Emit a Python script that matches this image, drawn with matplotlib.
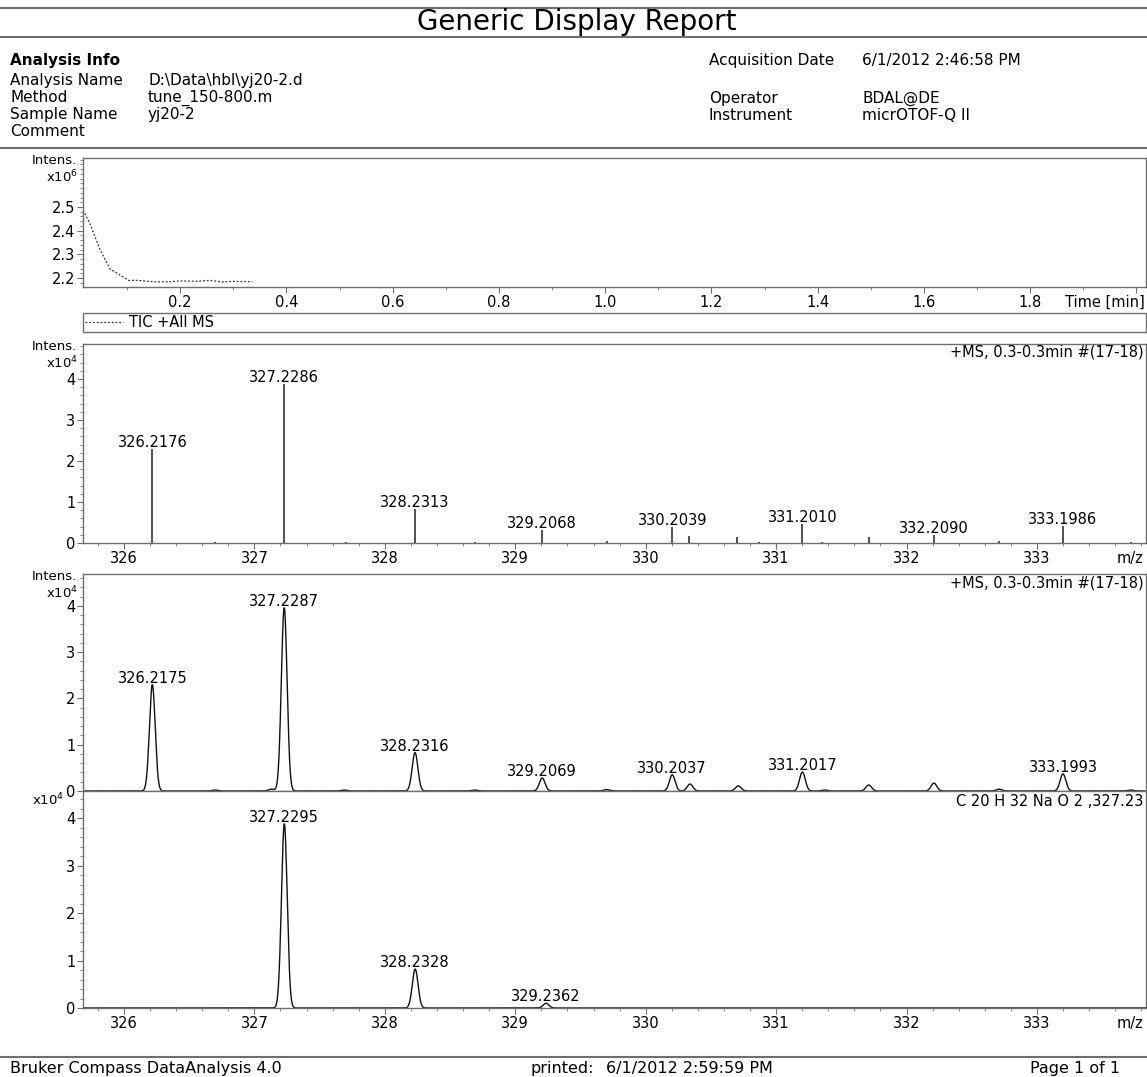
import numpy as np
import matplotlib
matplotlib.use('Agg')
import matplotlib.pyplot as plt
from matplotlib.lines import Line2D
from matplotlib.ticker import MultipleLocator

W, H = 1147, 1077

# TIC trace: time [min], intensity [x1e6]
tic_time = [0.017, 0.03, 0.049, 0.068, 0.085, 0.103, 0.12, 0.15, 0.18, 0.2, 0.23, 0.256, 0.28, 0.3, 0.336]
tic_int = [2.487, 2.43, 2.32, 2.238, 2.215, 2.19, 2.19, 2.184, 2.184, 2.188, 2.186, 2.19, 2.183, 2.186, 2.184]

# line spectrum +MS: m/z, intensity [x1e4]
ms_mz = [326.2176, 326.70, 327.2286, 327.70, 328.2313, 328.69, 329.2068, 329.70, 330.2039, 330.33,
         330.70, 330.87, 331.2010, 331.35, 331.71, 332.2090, 332.71, 333.1986, 333.72]
ms_int = [2.29, 0.02, 3.89, 0.02, 0.83, 0.02, 0.32, 0.04, 0.38, 0.18,
          0.15, 0.02, 0.46, 0.03, 0.15, 0.20, 0.04, 0.42, 0.02]
ms_labeled = [326.2176, 327.2286, 328.2313, 329.2068, 330.2039, 331.2010, 332.2090, 333.1986]

# profile spectrum +MS
pr_mz = [326.2175, 326.70, 327.13, 327.2287, 327.69, 328.2316, 328.69, 329.2069, 329.70, 330.2037,
         330.34, 330.71, 331.2017, 331.37, 331.71, 332.21, 332.71, 333.1993, 333.72]
pr_int = [2.30, 0.02, 0.04, 3.96, 0.02, 0.83, 0.02, 0.28, 0.03, 0.35,
          0.15, 0.11, 0.41, 0.02, 0.13, 0.17, 0.04, 0.37, 0.02]
pr_labeled = [326.2175, 327.2287, 328.2316, 329.2069, 330.2037, 331.2017, 333.1993]

# simulated pattern C20H32NaO2
th_mz = [327.2295, 328.2328, 329.2362]
th_int = [3.88, 0.82, 0.10]
th_labeled = [327.2295, 328.2328, 329.2362]

peak_sigma = 0.022
mz_range = (325.686, 333.836)
mz_ticks = [326, 327, 328, 329, 330, 331, 332, 333]

GRAY = '#6e6e6e'
FS = 10.5


def box(l, t, r, b):
    return [l / W, 1 - b / H, (r - l) / W, (b - t) / H]


def fx(x):
    return x / W


def fy(y):
    return 1 - y / H


def style(ax):
    for s in ax.spines.values():
        s.set_color(GRAY)
        s.set_linewidth(1.0)
    ax.tick_params(which='both', direction='out', color=GRAY, labelsize=FS, pad=1.5)
    ax.tick_params(which='major', length=4)
    ax.tick_params(which='minor', length=2.5)


def profile(mz, inten, x):
    y = np.zeros_like(x)
    for c, h in zip(mz, inten):
        y += h * np.exp(-0.5 * ((x - c) / peak_sigma) ** 2)
    return y


def label_peaks(ax, mz, inten, labeled):
    for m in labeled:
        h = inten[mz.index(m)]
        ax.annotate('%.4f' % m, (m, h), xytext=(0, 2), textcoords='offset pixels',
                    ha='center', va='baseline', fontsize=FS)


def mz_axis(ax, ylim, labels=True):
    ax.set_xlim(*mz_range)
    ax.set_ylim(*ylim)
    ax.set_xticks(mz_ticks)
    ax.xaxis.set_minor_locator(MultipleLocator(0.2))
    ax.set_yticks([0, 1, 2, 3, 4])
    ax.yaxis.set_minor_locator(MultipleLocator(0.2))
    if labels:
        ax.annotate('m/z', xy=(1, 0), xycoords='axes fraction', xytext=(-2, -5.5),
                    textcoords='offset points', ha='right', va='top', fontsize=FS)
    else:
        ax.tick_params(axis='x', which='both', bottom=False, labelbottom=False)


def intens_label(top, mult, with_intens=True):
    # "Intens." / "x10^n" stacked left of a panel
    if with_intens:
        fig.text(fx(77), fy(top + 3), 'Intens.', ha='right', va='center', fontsize=9.5)
        fig.text(fx(78), fy(top + 19), 'x10$^%d$' % mult, ha='right', va='center', fontsize=9.5)
    else:
        fig.text(fx(64), fy(top + 9), 'x10$^%d$' % mult, ha='right', va='center', fontsize=9.5)


fig = plt.figure(figsize=(W / 100, H / 100), dpi=100)

# header
for yy in [8, 37, 148, 1057]:
    fig.add_artist(Line2D([0, 1], [fy(yy), fy(yy)], transform=fig.transFigure, color=GRAY, lw=1.5))
fig.text(0.503, fy(22), 'Generic Display Report', ha='center', va='center', fontsize=20)
fig.text(fx(10), fy(60), 'Analysis Info', ha='left', va='center', fontsize=11, fontweight='bold')
rows = [('Analysis Name', 'D:\\Data\\hbl\\yj20-2.d', 81), ('Method', 'tune_150-800.m', 98),
        ('Sample Name', 'yj20-2', 115), ('Comment', '', 132)]
for k, v, yy in rows:
    fig.text(fx(10), fy(yy), k, ha='left', va='center', fontsize=11)
    fig.text(fx(148), fy(yy), v, ha='left', va='center', fontsize=11)
rows_r = [('Acquisition Date', '6/1/2012 2:46:58 PM', 60), ('Operator', 'BDAL@DE', 98),
          ('Instrument', 'micrOTOF-Q II', 115)]
for k, v, yy in rows_r:
    fig.text(fx(709), fy(yy), k, ha='left', va='center', fontsize=11)
    fig.text(fx(862), fy(yy), v, ha='left', va='center', fontsize=11)

# TIC panel
ax1 = fig.add_axes(box(83, 158, 1146, 287))
style(ax1)
tic_line, = ax1.plot(tic_time, tic_int, ls=(0, (1.5, 1.5)), color='#333333', lw=0.9, label='TIC +All MS')
ax1.set_xlim(0.017, 2.018)
ax1.set_ylim(2.162, 2.707)
ax1.set_xticks([0.2, 0.4, 0.6, 0.8, 1.0, 1.2, 1.4, 1.6, 1.8, 2.0])
ax1.set_xticklabels(['0.2', '0.4', '0.6', '0.8', '1.0', '1.2', '1.4', '1.6', '1.8', ''])
ax1.xaxis.set_minor_locator(MultipleLocator(0.1))
ax1.set_yticks([2.2, 2.3, 2.4, 2.5])
ax1.yaxis.set_minor_locator(MultipleLocator(0.02))
ax1.annotate('Time [min]', xy=(1, 0), xycoords='axes fraction', xytext=(-1, -5.5),
             textcoords='offset points', ha='right', va='top', fontsize=FS)
ax1.legend(handles=[tic_line], loc='upper left', bbox_to_anchor=box(83, 313, 1146, 328),
           bbox_transform=fig.transFigure, mode='expand', fancybox=False, edgecolor=GRAY,
           framealpha=1, borderpad=0.15, borderaxespad=0, handlelength=2.6, handletextpad=0.4,
           fontsize=FS)
intens_label(158, 6)

# line spectrum panel
ax2 = fig.add_axes(box(83, 344, 1146, 543))
style(ax2)
ax2.vlines(ms_mz, 0, ms_int, color='#202020', lw=1.1)
mz_axis(ax2, (0, 4.854))
label_peaks(ax2, ms_mz, ms_int, ms_labeled)
ax2.text(0.998, 0.995, '+MS, 0.3-0.3min #(17-18)', transform=ax2.transAxes, ha='right', va='top', fontsize=FS)
intens_label(344, 4)

# profile spectrum panel
grid = np.linspace(mz_range[0], mz_range[1], 8000)
ax3 = fig.add_axes(box(83, 574, 1146, 791))
style(ax3)
ax3.plot(grid, profile(pr_mz, pr_int, grid), color='#111111', lw=1.0)
mz_axis(ax3, (0, 4.69), labels=False)
label_peaks(ax3, pr_mz, pr_int, pr_labeled)
ax3.text(0.998, 0.995, '+MS, 0.3-0.3min #(17-18)', transform=ax3.transAxes, ha='right', va='top', fontsize=FS)
intens_label(574, 4)

# simulated pattern panel
ax4 = fig.add_axes(box(83, 791, 1146, 1008))
style(ax4)
ax4.plot(grid, profile(th_mz, th_int, grid), color='#111111', lw=1.0)
mz_axis(ax4, (0, 4.57))
label_peaks(ax4, th_mz, th_int, th_labeled)
ax4.text(0.998, 0.985, 'C 20 H 32 Na O 2 ,327.23', transform=ax4.transAxes, ha='right', va='top', fontsize=FS)
intens_label(791, 4, with_intens=False)

# footer
fig.text(fx(10), fy(1068), 'Bruker Compass DataAnalysis 4.0', ha='left', va='center', fontsize=11.5)
fig.text(fx(530), fy(1068), 'printed:', ha='left', va='center', fontsize=11.5)
fig.text(fx(606), fy(1068), '6/1/2012 2:59:59 PM', ha='left', va='center', fontsize=11.5)
fig.text(fx(1030), fy(1068), 'Page 1 of 1', ha='left', va='center', fontsize=11.5)

fig.savefig('out.png', dpi=100)
